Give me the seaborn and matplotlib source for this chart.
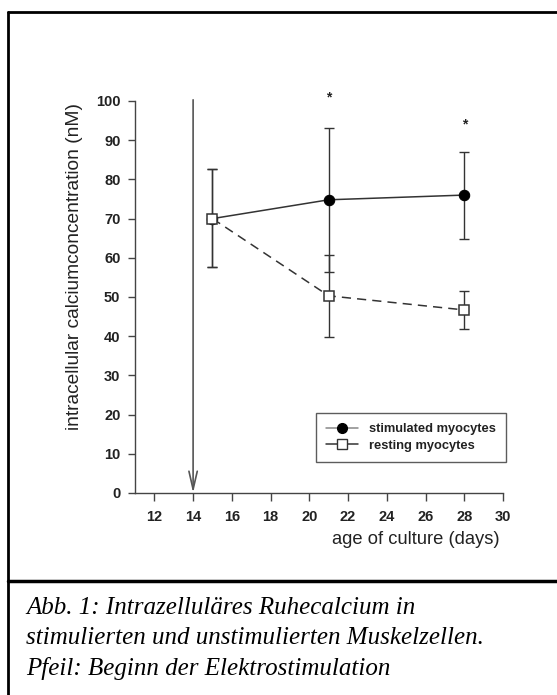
import numpy as np
import pandas as pd
import matplotlib
matplotlib.use("Agg")
import matplotlib.pyplot as plt
from matplotlib.lines import Line2D
import seaborn as sns

# ---- data ----
days = [15, 21, 28]
stim_mean = [70.0, 74.8, 76.0]
stim_lo = [57.6, 56.5, 64.8]
stim_hi = [82.6, 93.2, 87.0]
rest_mean = [70.0, 50.3, 46.7]
rest_lo = [57.6, 39.8, 41.8]
rest_hi = [82.6, 60.8, 51.5]
series_names = ["stimulated myocytes", "resting myocytes"]
star_days = [21, 28]
star_vals = [100.8, 93.9]
arrow_day = 14
xticks = [12, 14, 16, 18, 20, 22, 24, 26, 28, 30]
yticks = [0, 10, 20, 30, 40, 50, 60, 70, 80, 90, 100]
xlabel = "age of culture (days)"
ylabel = "intracellular calciumconcentration (nM)"
caption = ["Abb. 1: Intrazelluläres Ruhecalcium in",
           "stimulierten und unstimulierten Muskelzellen.",
           "Pfeil: Beginn der Elektrostimulation"]

sns.set_style("white")
plt.rcParams['font.family'] = ['Liberation Sans', 'DejaVu Sans']

W, H = 557, 695
fig = plt.figure(figsize=(W / 100, H / 100), dpi=100)
ax = fig.add_axes([135 / W, 1 - 493 / H, (503 - 135) / W, (493 - 101) / H])

df = pd.DataFrame({
    "day": days * 2,
    "value": stim_mean + rest_mean,
    "series": [series_names[0]] * 3 + [series_names[1]] * 3,
})

line_col = "#333333"
# stimulated (solid, filled circle)
sns.lineplot(data=df[df.series == series_names[0]], x="day", y="value", ax=ax,
             color=line_col, lw=1.1, marker="o", markersize=7.5,
             markerfacecolor="black", markeredgecolor="black", zorder=3,
             legend=False)
# resting (dashed, open square)
sns.lineplot(data=df[df.series == series_names[1]], x="day", y="value", ax=ax,
             color=line_col, lw=1.1, marker="s", markersize=7,
             markerfacecolor="white", markeredgecolor="#333333",
             markeredgewidth=1.1, zorder=4, legend=False)
ax.lines[-1].set_linestyle((0, (6, 4)))

# error bars
for m, lo, hi in [(stim_mean, stim_lo, stim_hi), (rest_mean, rest_lo, rest_hi)]:
    m = np.array(m); lo = np.array(lo); hi = np.array(hi)
    ax.errorbar(days, m, yerr=[m - lo, hi - m], fmt="none", ecolor="#333333",
                elinewidth=1.0, capsize=3.5, capthick=1.0, zorder=2)

# asterisks
for d, v in zip(star_days, star_vals):
    ax.text(d, v, "*", ha="center", va="center", fontsize=10, fontweight="bold",
            color="#222222", clip_on=False)

# arrow: start of electrostimulation
ax.annotate("", xy=(arrow_day, 0), xytext=(arrow_day, 100.3),
            arrowprops=dict(arrowstyle="->,head_length=1.3,head_width=0.3",
                            color="#555555", lw=1.2, shrinkA=0, shrinkB=0),
            annotation_clip=False)

ax.set_xlim(11, 30)
ax.set_ylim(0, 100)
ax.set_xticks(xticks)
ax.set_yticks(yticks)
ax.set_xticklabels([str(t) for t in xticks], fontsize=10.5, fontweight="bold", color="#222222")
ax.set_yticklabels([str(t) for t in yticks], fontsize=10.5, fontweight="bold", color="#222222")
ax.tick_params(axis="y", direction="out", length=5, width=1.0, color="#444444",
               left=True, pad=5.5)
ax.tick_params(axis="x", direction="out", length=6, width=1.0, color="#444444",
               bottom=True, pad=6.5)
for s in ["top", "right"]:
    ax.spines[s].set_visible(False)
for s in ["left", "bottom"]:
    ax.spines[s].set_color("#444444")
    ax.spines[s].set_linewidth(1.0)
ax.set_xlabel("")
ax.set_ylabel("")
fig.text(500 / W, 1 - 540 / H, xlabel, ha="right", va="center", fontsize=13.2, color="#222222")
fig.text(75 / W, 1 - 266 / H, ylabel, ha="center", va="center", rotation=90,
         fontsize=13.8, color="#222222")

# legend
handles = [
    Line2D([], [], color="#888888", lw=1.1, marker="o", markersize=7,
           markerfacecolor="black", markeredgecolor="black"),
    Line2D([], [], color="#333333", lw=1.1, marker="s", markersize=7,
           markerfacecolor="white", markeredgecolor="#333333"),
]
leg = ax.legend(handles, series_names, loc="lower right",
                bbox_to_anchor=(506 / W, 1 - 462 / H), bbox_transform=fig.transFigure,
                fontsize=9.3, frameon=True, fancybox=False, handlelength=2.5,
                borderpad=0.8, labelspacing=0.35, handletextpad=0.8, borderaxespad=0)
leg.get_frame().set_edgecolor("#333333")
leg.get_frame().set_linewidth(1.0)
for t in leg.get_texts():
    t.set_fontweight("bold")
    t.set_color("#222222")

# border frame
def fy(y):
    return 1 - y / H
fig.add_artist(Line2D([8 / W, 1.01], [fy(12), fy(12)], color="black", lw=2.0,
                      transform=fig.transFigure))
fig.add_artist(Line2D([8 / W, 8 / W], [fy(12), -0.01], color="black", lw=2.0,
                      transform=fig.transFigure))
fig.add_artist(Line2D([8 / W, 1.01], [fy(581), fy(581)], color="black", lw=2.5,
                      transform=fig.transFigure))

# caption
for i, line in enumerate(caption):
    fig.text(26 / W, fy(608 + 30 * i), line, ha="left", va="center",
             fontsize=18, style="italic", family="Liberation Serif", color="black")

fig.savefig("out.png", dpi=100)
